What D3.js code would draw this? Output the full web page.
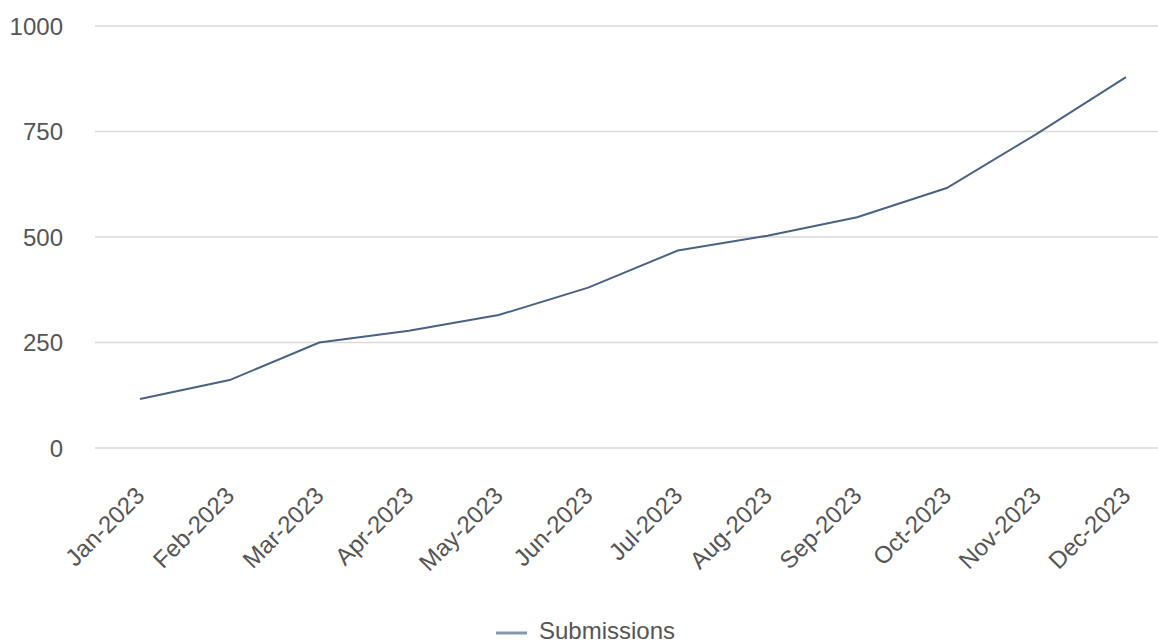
<!DOCTYPE html>
<html><head><meta charset="utf-8">
<script src="https://cdn.jsdelivr.net/npm/d3@7"></script>
<style>body{margin:0;background:#fff;}svg{display:block;font-family:"Liberation Sans",Arial,sans-serif;}</style>
</head><body><svg id="c" width="1158" height="642"></svg>
<script>
const categories = ["Jan-2023","Feb-2023","Mar-2023","Apr-2023","May-2023","Jun-2023","Jul-2023","Aug-2023","Sep-2023","Oct-2023","Nov-2023","Dec-2023"];
const submissions = [116,161,250,278,315,380,468,503,547,616,744,879];
const yTicks = [0,250,500,750,1000];
const seriesName = "Submissions";

const svg = d3.select("#c");
const x = d3.scalePoint().domain(categories).range([140,1126]);
const y = d3.scaleLinear().domain([0,1000]).range([448,26]);
const txt = "#555555";

svg.append("g").selectAll("line").data(yTicks).join("line")
  .attr("x1",95).attr("x2",1158).attr("y1",d=>y(d)).attr("y2",d=>y(d))
  .attr("stroke","#d9d9d9").attr("stroke-width",1.3);
svg.append("g").selectAll("text").data(yTicks).join("text")
  .attr("x",63).attr("y",d=>y(d)).attr("dy","0.36em").attr("text-anchor","end")
  .attr("fill",txt).attr("font-size",24)
  .text(d=>d);

svg.append("g").selectAll("text").data(categories).join("text")
  .attr("transform",d=>`translate(${x(d)+6},${497}) rotate(-45)`)
  .attr("text-anchor","end").attr("fill",txt).attr("font-size",24).text(d=>d);

svg.append("path").datum(submissions)
  .attr("d",d3.line().x((d,i)=>x(categories[i])).y(d=>y(d)))
  .attr("fill","none").attr("stroke","#4a6282").attr("stroke-width",2);

svg.append("line").attr("x1",496).attr("x2",527).attr("y1",633).attr("y2",633)
  .attr("stroke","#8796ad").attr("stroke-width",3);
svg.append("text").attr("x",539).attr("y",639).attr("fill",txt).attr("font-size",24).text(seriesName);
</script></body></html>
